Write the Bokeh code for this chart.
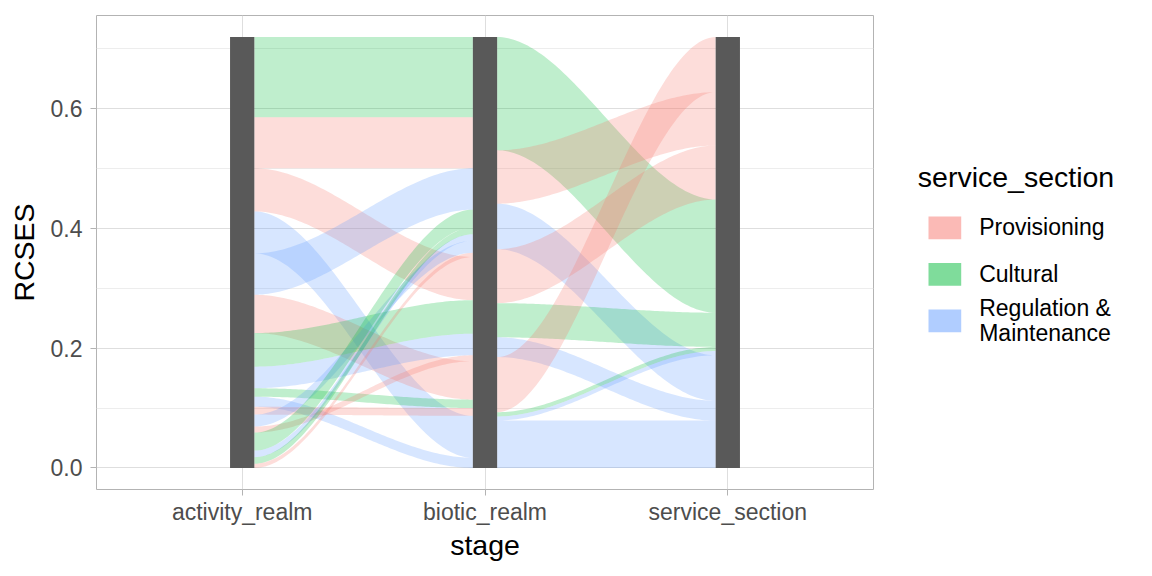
import numpy as np
from bokeh.plotting import figure
from bokeh.models import Range1d, FixedTicker
from bokeh.layouts import row
from bokeh.embed import file_html
from bokeh.resources import INLINE
from bokeh.core.properties import value

# ---------------- data ----------------
stages = ["activity_realm", "biotic_realm", "service_section"]
sections = ["Provisioning", "Cultural", "Regulation & Maintenance"]
section_label_lines = [["Provisioning"], ["Cultural"], ["Regulation &", "Maintenance"]]
section_colors = ["#F8766D", "#00BA38", "#619CFF"]

# flows activity_realm -> biotic_realm (listed in stacking order at activity_realm)
flow1_section = ["Cultural", "Provisioning", "Provisioning", "Regulation & Maintenance",
                 "Regulation & Maintenance", "Provisioning", "Cultural", "Regulation & Maintenance",
                 "Cultural", "Regulation & Maintenance", "Provisioning", "Regulation & Maintenance",
                 "Provisioning", "Cultural", "Regulation & Maintenance", "Cultural", "Provisioning"]
flow1_value = [0.134, 0.085, 0.072, 0.070, 0.069, 0.064, 0.056, 0.036, 0.014, 0.017,
               0.013, 0.020, 0.010, 0.030, 0.011, 0.011, 0.007]
flow1_rank_at_biotic = [0, 1, 8, 15, 2, 12, 9, 10, 13, 16, 14, 6, 11, 3, 5, 4, 7]

# flows biotic_realm -> service_section (listed in stacking order at biotic_realm)
flow2_section = ["Cultural", "Provisioning", "Regulation & Maintenance", "Provisioning",
                 "Cultural", "Regulation & Maintenance", "Provisioning", "Cultural",
                 "Regulation & Maintenance", "Regulation & Maintenance"]
flow2_value = [0.189, 0.089, 0.076, 0.090, 0.057, 0.033, 0.092, 0.007, 0.007, 0.079]
flow2_rank_at_service = [3, 1, 7, 2, 4, 8, 0, 5, 6, 9]

y_ticks = [0.0, 0.2, 0.4, 0.6]
y_minor = [0.1, 0.3, 0.5, 0.7]

# ---------------- styling ----------------
FONT = "Liberation Sans"
STRATUM_W = 0.1
FLOW_ALPHA = 0.25
KEY_ALPHA = 0.5
color_of = dict(zip(sections, section_colors))

FRAME_W, FRAME_H = 777, 474
B_LEFT, B_TOP, B_BOTTOM = 96, 15, 79


def stack_positions(vals, ranks, top):
    vals = np.asarray(vals, float)
    left_top = top - np.concatenate([[0], np.cumsum(vals)[:-1]])
    order = np.argsort(ranks)
    right_top = np.empty_like(vals)
    cum = top
    for i in order:
        right_top[i] = cum
        cum -= vals[i]
    return left_top, right_top


def ribbon(x0, x1, lt, lb, rt, rb, n=80):
    t = np.linspace(0, 1, n)
    s = 3 * t ** 2 - 2 * t ** 3
    xs = x0 + (x1 - x0) * t
    top = lt + (rt - lt) * s
    bot = lb + (rb - lb) * s
    return list(np.concatenate([xs, xs[::-1]])), list(np.concatenate([top, bot[::-1]]))


total = float(sum(flow1_value))
pad = 0.05 * total

p = figure(frame_width=FRAME_W, frame_height=FRAME_H,
           min_border_left=B_LEFT, min_border_right=1, min_border_top=B_TOP, min_border_bottom=B_BOTTOM,
           x_range=Range1d(0.4, 3.6), y_range=Range1d(-pad, total + pad),
           output_backend="svg", toolbar_location=None,
           background_fill_color="white", border_fill_color="white")
p.outline_line_color = "#B3B3B3"
p.outline_line_width = 1

# grid
p.xaxis.ticker = FixedTicker(ticks=[1, 2, 3])
p.yaxis.ticker = FixedTicker(ticks=y_ticks, minor_ticks=y_minor)
p.xgrid.grid_line_color = "#DEDEDE"
p.ygrid.grid_line_color = "#DEDEDE"
p.ygrid.minor_grid_line_color = "#EDEDED"

# axes
for ax in (p.xaxis[0], p.yaxis[0]):
    ax.axis_line_color = None
    ax.major_tick_line_color = "#B3B3B3"
    ax.major_tick_out = 6
    ax.major_tick_in = 0
    ax.minor_tick_line_color = None
    ax.major_label_text_font = FONT
    ax.major_label_text_font_size = "23px"
    ax.major_label_text_color = "#4D4D4D"
    ax.axis_label_text_font = FONT
    ax.axis_label_text_font_size = "28.5px"
    ax.axis_label_text_font_style = "normal"
    ax.axis_label_text_color = "black"

p.xaxis.major_label_overrides = {i + 1: s for i, s in enumerate(stages)}
p.xaxis.axis_label = "stage"
p.xaxis.major_label_standoff = 3
p.xaxis.axis_label_standoff = 1
p.yaxis.major_label_overrides = {t: f"{t:.1f}" for t in y_ticks}
p.yaxis.axis_label = "RCSES"
p.yaxis.major_label_standoff = 8
p.yaxis.axis_label_standoff = 8

# flows
xs_all, ys_all, cols = [], [], []
for k, (secs, vals, ranks) in enumerate([(flow1_section, flow1_value, flow1_rank_at_biotic),
                                         (flow2_section, flow2_value, flow2_rank_at_service)]):
    lt, rt = stack_positions(vals, ranks, total)
    x0 = k + 1 + STRATUM_W / 2
    x1 = k + 2 - STRATUM_W / 2
    for i, v in enumerate(vals):
        xs, ys = ribbon(x0, x1, lt[i], lt[i] - v, rt[i], rt[i] - v)
        xs_all.append(xs)
        ys_all.append(ys)
        cols.append(color_of[secs[i]])

p.patches(xs_all, ys_all, fill_color=cols, fill_alpha=FLOW_ALPHA, line_color=None)

# strata
p.quad(left=[i + 1 - STRATUM_W / 2 for i in range(len(stages))],
       right=[i + 1 + STRATUM_W / 2 for i in range(len(stages))],
       bottom=[0] * len(stages), top=[total] * len(stages),
       fill_color="#595959", line_color=None)

# ---------------- legend panel (pixel coordinates, y downwards) ----------------
LW = 268
lg = figure(frame_width=LW, frame_height=FRAME_H,
            min_border_left=0, min_border_right=0, min_border_top=B_TOP, min_border_bottom=B_BOTTOM,
            x_range=Range1d(0, LW), y_range=Range1d(B_TOP + FRAME_H, B_TOP),
            x_axis_location=None, y_axis_location=None,
            output_backend="svg", toolbar_location=None,
            background_fill_color="white", border_fill_color="white")
lg.outline_line_color = None
lg.grid.visible = False

lg.text(x=[43.3], y=[176], text=["service_section"], text_font=value(FONT),
        text_font_size="28.5px", text_color="black", text_baseline="alphabetic")

key_top0, key_h, key_step = 216, 22.7, 46.5
for i, (lines, col) in enumerate(zip(section_label_lines, section_colors)):
    top = key_top0 + i * key_step
    lg.quad(left=[54], right=[86.7], top=[top], bottom=[top + key_h],
            fill_color=col, fill_alpha=KEY_ALPHA, line_color=None)
    centre = top + key_h / 2
    nl = len(lines)
    for j, line in enumerate(lines):
        base = centre - 0.5 + (j - (nl - 1) / 2) * 24.3
        lg.text(x=[104.7], y=[base], text=[line], text_font=value(FONT),
                text_font_size="23px", text_color="black", text_baseline="alphabetic")

layout = row(p, lg)
open("out.html", "w").write(file_html(layout, INLINE))
